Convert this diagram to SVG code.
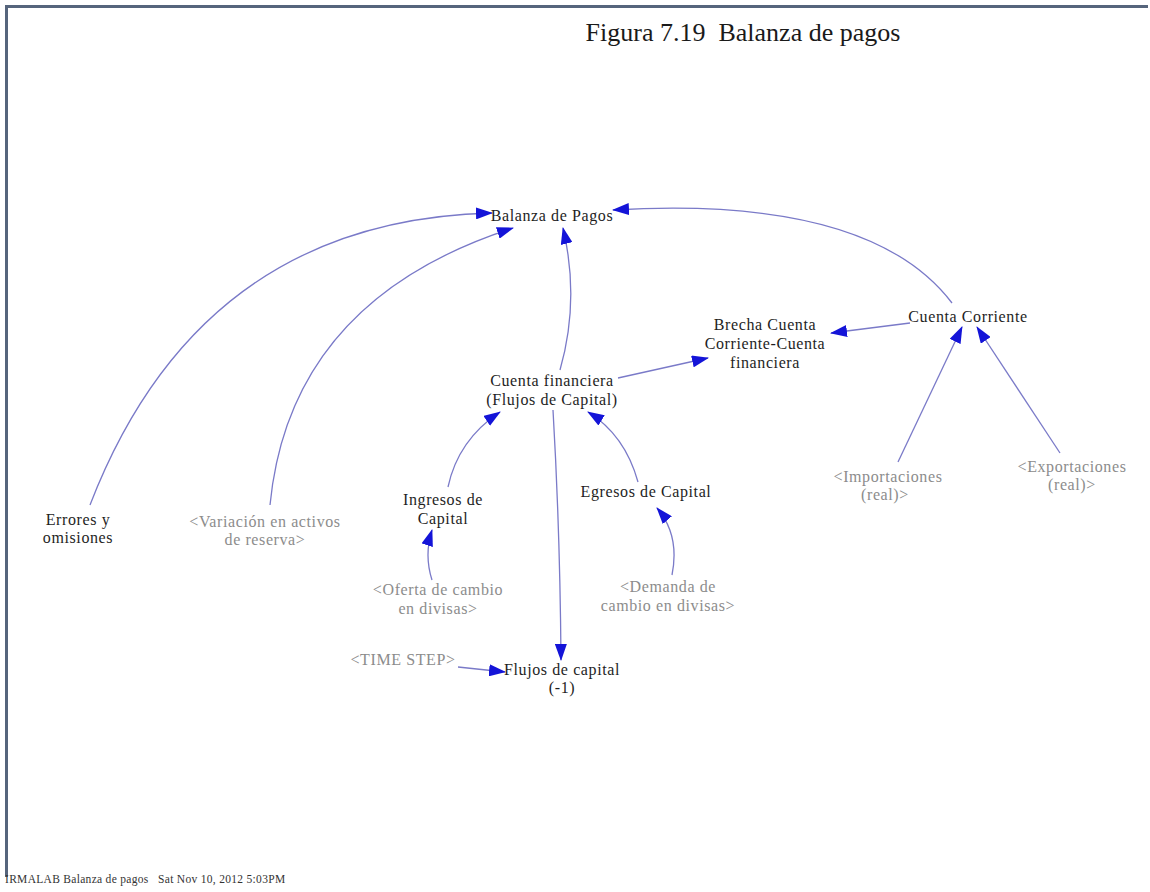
<svg xmlns="http://www.w3.org/2000/svg" width="1150" height="892" viewBox="0 0 1150 892">
<style>
.n{font-family:"Liberation Serif","Times New Roman",serif;font-size:16px;letter-spacing:0.6px;fill:#1e1e1e;text-anchor:middle}
.g{font-family:"Liberation Serif","Times New Roman",serif;font-size:16px;letter-spacing:0.6px;fill:#8c8c8c;text-anchor:middle}
.c{fill:none;stroke:#7a7ac8;stroke-width:1.3}
</style>
<defs>
<marker id="a" markerUnits="userSpaceOnUse" markerWidth="18" markerHeight="12" refX="16" refY="6" orient="auto">
<path d="M0,0 L17,6 L0,12 Z" fill="#1414d8"/>
</marker>
</defs>
<rect width="1150" height="892" fill="#fff"/>
<g id="frame">
<line x1="5" y1="6.5" x2="1148" y2="6.5" stroke="#56657c" stroke-width="3"/>
<line x1="6.5" y1="5" x2="6.5" y2="877" stroke="#56657c" stroke-width="3"/>
</g>
<text x="743" y="41" xml:space="preserve" style="font-family:'Liberation Serif',serif;font-size:26px;fill:#1a1a1a;text-anchor:middle">Figura 7.19  Balanza de pagos</text>
<g id="connectors">
<path class="c" d="M90,505 Q200,220 492,213" marker-end="url(#a)"/>
<path class="c" d="M270,505 Q290,300 513,228" marker-end="url(#a)"/>
<path class="c" d="M560,370 Q580,300 563,228" marker-end="url(#a)"/>
<path class="c" d="M952,303 Q870,195 613,210" marker-end="url(#a)"/>
<path class="c" d="M910,323 L831,333" marker-end="url(#a)"/>
<path class="c" d="M618,378 L708,358" marker-end="url(#a)"/>
<path class="c" d="M448,487 Q458,440 500,412" marker-end="url(#a)"/>
<path class="c" d="M638,482 Q625,435 588,412" marker-end="url(#a)"/>
<path class="c" d="M553,410 Q560,530 561,660" marker-end="url(#a)"/>
<path class="c" d="M432,580 Q424,555 432,530" marker-end="url(#a)"/>
<path class="c" d="M672,575 Q680,535 657,508" marker-end="url(#a)"/>
<path class="c" d="M458,667 L505,672" marker-end="url(#a)"/>
<path class="c" d="M898,462 L962,327" marker-end="url(#a)"/>
<path class="c" d="M1060,453 L977,327" marker-end="url(#a)"/>
</g>
<g id="balanza"><text class="n" x="552" y="221">Balanza de Pagos</text></g>
<g id="cuentaCorriente"><text class="n" x="968" y="322">Cuenta Corriente</text></g>
<g id="brecha"><text class="n" x="765" y="330">Brecha Cuenta</text><text class="n" x="765" y="349">Corriente-Cuenta</text><text class="n" x="765" y="368">financiera</text></g>
<g id="cuentaFinanciera"><text class="n" x="552" y="386">Cuenta financiera</text><text class="n" x="552" y="405">(Flujos de Capital)</text></g>
<g id="ingresos"><text class="n" x="443" y="505">Ingresos de</text><text class="n" x="443" y="524">Capital</text></g>
<g id="egresos"><text class="n" x="646" y="497">Egresos de Capital</text></g>
<g id="errores"><text class="n" x="78" y="525">Errores y</text><text class="n" x="78" y="543">omisiones</text></g>
<g id="variacion"><text class="g" x="265" y="527">&lt;Variación en activos</text><text class="g" x="265" y="545">de reserva&gt;</text></g>
<g id="oferta"><text class="g" x="438" y="595">&lt;Oferta de cambio</text><text class="g" x="438" y="614">en divisas&gt;</text></g>
<g id="demanda"><text class="g" x="668" y="592">&lt;Demanda de</text><text class="g" x="668" y="611">cambio en divisas&gt;</text></g>
<g id="importaciones"><text class="g" x="888" y="482">&lt;Importaciones</text><text class="g" x="885" y="500">(real)&gt;</text></g>
<g id="exportaciones"><text class="g" x="1072" y="472">&lt;Exportaciones</text><text class="g" x="1072" y="490">(real)&gt;</text></g>
<g id="timestep"><text class="g" x="403" y="665">&lt;TIME STEP&gt;</text></g>
<g id="flujos"><text class="n" x="562" y="675">Flujos de capital</text><text class="n" x="562" y="693">(-1)</text></g>
<text x="5" y="883" xml:space="preserve" style="font-family:'Liberation Serif',serif;font-size:11.5px;letter-spacing:0.3px;fill:#333">IRMALAB Balanza de pagos   Sat Nov 10, 2012 5:03PM</text>
</svg>
